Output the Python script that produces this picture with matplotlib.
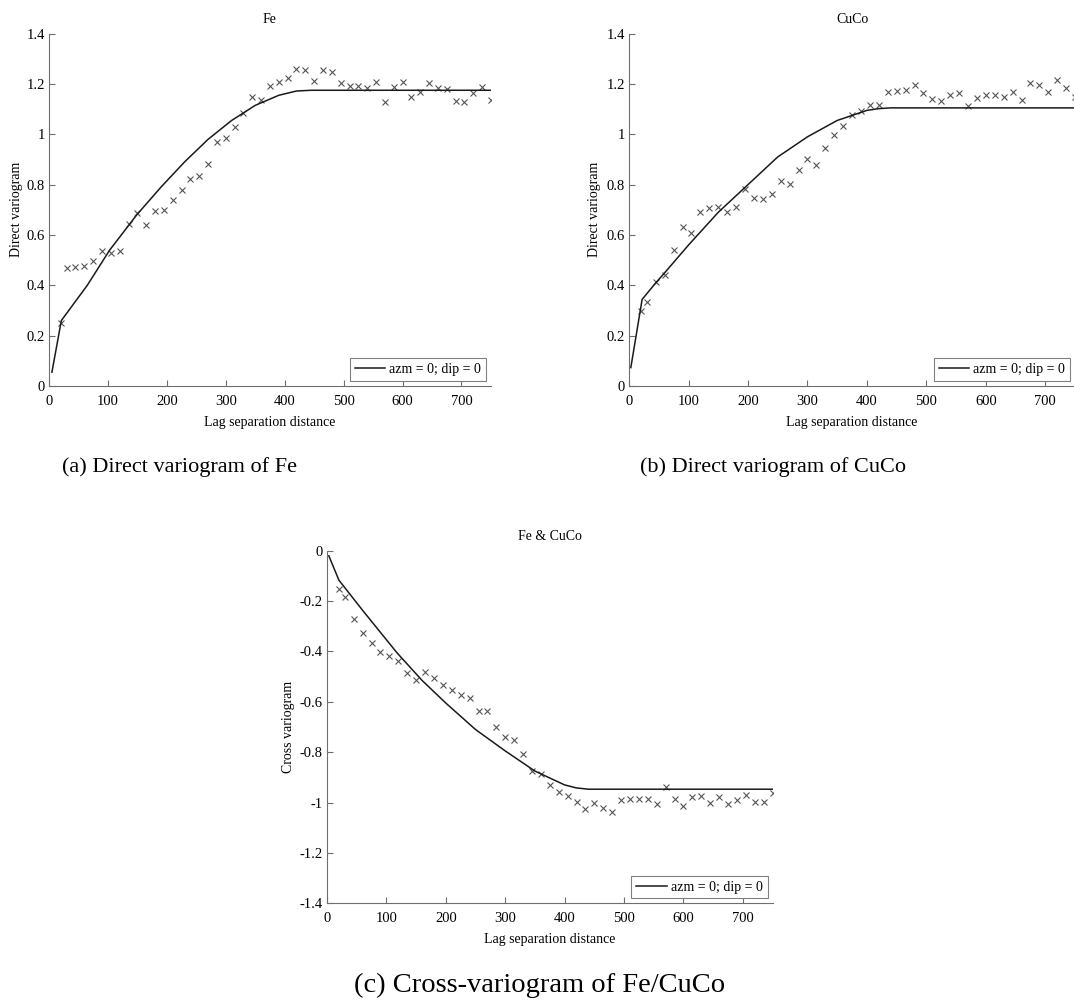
import matplotlib
matplotlib.use("Agg")
import matplotlib.pyplot as plt

plt.rcParams['font.family'] = ['Liberation Serif', 'DejaVu Serif']

# lag distances of the experimental points
lags = [20, 30, 45, 60, 75, 90, 105, 120, 135, 150, 165, 180, 195, 210, 225,
        240, 255, 270, 285, 300, 315, 330, 345, 360, 375, 390, 405, 420, 435,
        450, 465, 480, 495, 510, 525, 540, 555, 570, 585, 600, 615, 630, 645,
        660, 675, 690, 705, 720, 735, 750]

fe_points = [0.252, 0.470, 0.473, 0.478, 0.497, 0.536, 0.527, 0.535, 0.642, 0.686,
             0.640, 0.695, 0.698, 0.740, 0.780, 0.823, 0.836, 0.883, 0.968, 0.984,
             1.029, 1.085, 1.147, 1.136, 1.192, 1.207, 1.225, 1.260, 1.256, 1.211,
             1.257, 1.246, 1.203, 1.192, 1.192, 1.185, 1.209, 1.127, 1.188, 1.209,
             1.150, 1.168, 1.203, 1.185, 1.180, 1.132, 1.130, 1.163, 1.188, 1.135]

cuco_points = [0.298, 0.334, 0.413, 0.440, 0.539, 0.630, 0.609, 0.690, 0.706, 0.713,
               0.691, 0.711, 0.783, 0.747, 0.744, 0.762, 0.815, 0.803, 0.858, 0.901,
               0.877, 0.947, 0.997, 1.034, 1.077, 1.094, 1.118, 1.117, 1.168, 1.172,
               1.176, 1.196, 1.165, 1.139, 1.134, 1.155, 1.165, 1.113, 1.145, 1.156,
               1.158, 1.150, 1.170, 1.138, 1.205, 1.195, 1.167, 1.216, 1.183, 1.150]

cross_points = [-0.151, -0.185, -0.271, -0.328, -0.367, -0.401, -0.417, -0.439, -0.487, -0.513,
                -0.480, -0.506, -0.535, -0.552, -0.573, -0.586, -0.637, -0.637, -0.701, -0.738,
                -0.750, -0.807, -0.873, -0.888, -0.931, -0.959, -0.973, -0.998, -1.027, -1.001,
                -1.023, -1.039, -0.990, -0.984, -0.987, -0.984, -1.007, -0.939, -0.984, -1.012,
                -0.976, -0.975, -1.002, -0.976, -1.004, -0.991, -0.972, -0.999, -0.999, -0.962]

# fitted model curves
fe_model_x = [5, 21, 65, 103, 149, 190, 230, 270, 310, 350, 390, 420, 445, 750]
fe_model_y = [0.055, 0.26, 0.40, 0.54, 0.68, 0.79, 0.89, 0.98, 1.055, 1.115, 1.155, 1.172, 1.175, 1.175]

cuco_model_x = [3, 22, 45, 60, 100, 150, 200, 250, 300, 350, 400, 420, 440, 750]
cuco_model_y = [0.073, 0.344, 0.41, 0.45, 0.56, 0.69, 0.80, 0.91, 0.99, 1.055, 1.095, 1.102, 1.105, 1.105]

cross_model_x = [3, 20, 60, 118, 160, 200, 250, 300, 350, 400, 420, 440, 750]
cross_model_y = [-0.02, -0.117, -0.237, -0.406, -0.515, -0.605, -0.71, -0.795, -0.875, -0.93, -0.942, -0.947, -0.947]

x_ticks = [0, 100, 200, 300, 400, 500, 600, 700]
pos_ticks = [0, 0.2, 0.4, 0.6, 0.8, 1.0, 1.2, 1.4]
pos_labels = ['0', '0.2', '0.4', '0.6', '0.8', '1', '1.2', '1.4']
neg_ticks = [0, -0.2, -0.4, -0.6, -0.8, -1.0, -1.2, -1.4]
neg_labels = ['0', '-0.2', '-0.4', '-0.6', '-0.8', '-1', '-1.2', '-1.4']

AXIS_GRAY = '#6e6e6e'


def draw_panel(ax, title, ylabel, xs, ys, mx, my, yticks, ylabels, ylim, ylabel_x):
    ax.plot(xs, ys, linestyle='none', marker='x', markersize=4, markeredgewidth=0.8,
            color='#555555')
    ax.plot(mx, my, color='#1a1a1a', linewidth=1.1, label='azm = 0; dip = 0')
    ax.set_xlim(0, 750)
    ax.set_ylim(*ylim)
    ax.set_xticks(x_ticks)
    ax.set_yticks(yticks)
    ax.set_yticklabels(ylabels)
    ax.tick_params(direction='in', length=4, width=0.8, color=AXIS_GRAY, labelsize=10.5)
    ax.tick_params(axis='x', pad=6.5)
    ax.tick_params(axis='y', pad=3)
    for side in ['top', 'right']:
        ax.spines[side].set_visible(False)
    for side in ['left', 'bottom']:
        ax.spines[side].set_color(AXIS_GRAY)
        ax.spines[side].set_linewidth(0.8)
    ax.set_title(title, fontsize=10, pad=8)
    ax.set_xlabel('Lag separation distance', fontsize=10)
    ax.xaxis.set_label_coords(0.5, -0.085)
    ax.set_ylabel(ylabel, fontsize=10)
    ax.yaxis.set_label_coords(ylabel_x, 0.5)
    leg = ax.legend(loc='lower right', fontsize=10, fancybox=False, framealpha=1,
                    handlelength=2.2, handletextpad=0.3, borderpad=0.35,
                    borderaxespad=0.35)
    leg.get_frame().set_edgecolor('#808080')
    leg.get_frame().set_linewidth(0.8)


fig = plt.figure(figsize=(10.74, 10.07), dpi=100)

ax_a = fig.add_axes([0.0456, 0.6167, 0.4115, 0.3499])
draw_panel(ax_a, 'Fe', 'Direct variogram', lags, fe_points, fe_model_x, fe_model_y,
           pos_ticks, pos_labels, (0, 1.4), -0.059)

ax_b = fig.add_axes([0.5857, 0.6167, 0.4153, 0.3499])
draw_panel(ax_b, 'CuCo', 'Direct variogram', lags, cuco_points, cuco_model_x, cuco_model_y,
           pos_ticks, pos_labels, (0, 1.4), -0.063)

ax_c = fig.add_axes([0.3045, 0.1030, 0.4148, 0.3501])
draw_panel(ax_c, 'Fe & CuCo', 'Cross variogram', lags, cross_points, cross_model_x, cross_model_y,
           neg_ticks, neg_labels, (-1.4, 0), -0.071)

fig.text(0.1667, 0.5363, '(a) Direct variogram of Fe', ha='center', va='center', fontsize=16)
fig.text(0.7197, 0.5363, '(b) Direct variogram of CuCo', ha='center', va='center', fontsize=16)
fig.text(0.5028, 0.0215, '(c) Cross-variogram of Fe/CuCo', ha='center', va='center', fontsize=20.5)

fig.savefig('out.png', dpi=100)
plt.close(fig)
